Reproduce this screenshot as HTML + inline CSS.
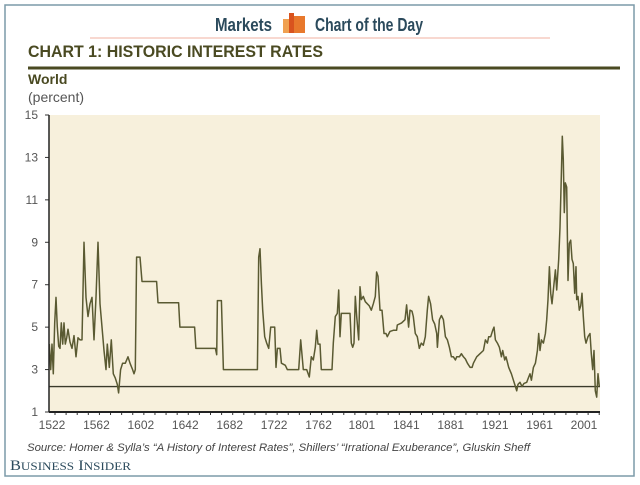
<!DOCTYPE html>
<html><head><meta charset="utf-8"><style>
body{margin:0;width:640px;height:480px;background:#fff;overflow:hidden;font-family:"Liberation Sans",sans-serif}
</style></head><body>
<svg width="640" height="480" viewBox="0 0 640 480">
<rect x="5" y="5" width="629" height="471" fill="#fff" stroke="#7c9aa8" stroke-width="1.5"/>
<text x="215" y="31" font-size="18" font-weight="bold" fill="#2b4a5c" textLength="57" lengthAdjust="spacingAndGlyphs">Markets</text>
<g><rect x="283" y="19" width="6" height="14" fill="#f0a050"/><rect x="289" y="13" width="5" height="20" fill="#d9531e"/><rect x="294" y="16" width="11" height="17" fill="#e8782c"/></g>
<text x="315" y="31" font-size="18" font-weight="bold" fill="#2b4a5c" textLength="108" lengthAdjust="spacingAndGlyphs">Chart of the Day</text>
<line x1="90" y1="38" x2="550" y2="38" stroke="#f0b0a0" stroke-width="1"/>
<text x="28" y="57" font-size="17" font-weight="bold" fill="#4a4a22" textLength="295" lengthAdjust="spacingAndGlyphs">CHART 1: HISTORIC INTEREST RATES</text>
<line x1="28" y1="68" x2="620" y2="68" stroke="#4a4a22" stroke-width="3"/>
<text x="28" y="84" font-size="14" font-weight="bold" fill="#4a4a22">World</text>
<text x="28" y="102" font-size="14" fill="#555">(percent)</text>
<rect x="49" y="115" width="551" height="297" fill="#f7f0dc"/>
<g id="plot"></g>
<text x="27" y="451" font-size="11" font-style="italic" fill="#444" textLength="503" lengthAdjust="spacingAndGlyphs">Source: Homer &amp; Sylla’s “A History of Interest Rates”, Shillers’ “Irrational Exuberance”, Gluskin Sheff</text>
<text x="10" y="470" font-size="15" fill="#2b4a5c" font-family="Liberation Serif, serif" textLength="121" lengthAdjust="spacingAndGlyphs">B<tspan font-size="12">USINESS</tspan> I<tspan font-size="12">NSIDER</tspan></text>
</svg>
<script>
const years=[1516.9,1518.1,1519.3,1520.5,1521.7,1522.9,1524.1,1525.3,1526.5,1527.7,1528.9,1530.1,1531.3,1532.5,1533.7,1535.5,1537.3,1539.1,1540.9,1542.7,1544.5,1546.3,1548.1,1549.9,1551.7,1553.5,1555.3,1557.1,1558.9,1560.7,1562.5,1564.3,1566.1,1567.9,1569.1,1570.9,1572.7,1574.5,1576.3,1578.1,1579.3,1581.1,1582.9,1585.3,1587.7,1589.5,1591.9,1593.1,1594.3,1595.5,1598.5,1600.3,1613.5,1614.7,1633.3,1634.5,1647.7,1648.9,1666.4,1667.6,1668.2,1671.8,1673.6,1704.2,1705.4,1706.6,1707.8,1709.0,1710.8,1712.6,1714.4,1716.2,1719.8,1721.0,1722.2,1724.6,1725.8,1729.4,1731.2,1741.4,1743.2,1745.6,1748.6,1751.0,1752.8,1754.6,1756.4,1757.6,1758.8,1760.6,1761.8,1771.4,1772.6,1774.4,1776.2,1777.4,1778.6,1779.8,1787.6,1788.8,1790.0,1791.2,1792.4,1793.6,1795.4,1796.6,1797.8,1799.6,1801.4,1805.0,1806.8,1808.6,1810.4,1811.6,1812.8,1814.6,1816.4,1818.2,1820.0,1821.2,1823.6,1826.6,1829.6,1830.2,1834.1,1837.1,1838.6,1840.4,1841.6,1843.4,1844.6,1846.4,1848.2,1850.0,1851.8,1853.6,1855.4,1857.2,1858.4,1860.2,1862.0,1863.9,1865.7,1866.3,1868.1,1869.9,1871.7,1873.5,1875.3,1877.1,1878.9,1880.7,1882.5,1883.7,1886.1,1887.9,1889.7,1891.5,1893.3,1895.7,1897.5,1898.7,1901.7,1904.7,1907.7,1909.5,1911.3,1912.5,1914.3,1916.1,1917.3,1918.5,1920.3,1922.1,1923.9,1925.1,1926.9,1928.1,1930.5,1932.9,1934.7,1936.5,1937.7,1938.9,1940.7,1942.5,1944.3,1946.7,1948.5,1949.7,1950.9,1952.7,1954.5,1956.3,1957.5,1958.7,1959.9,1961.7,1963.5,1964.7,1965.9,1967.1,1968.3,1969.5,1971.3,1972.5,1973.7,1975.5,1976.7,1977.9,1978.8,1979.7,1980.6,1981.5,1982.7,1983.9,1985.1,1986.3,1987.5,1988.7,1989.9,1991.1,1991.7,1992.9,1994.1,1995.3,1996.5,1997.7,1998.9,2000.1,2001.9,2003.7,2004.9,2006.1,2007.3,2008.5,2009.7,2010.9,2012.1];
const rates=[4.2,3.0,4.2,2.8,5.2,6.4,5.0,4.1,4.0,5.2,4.2,5.2,4.2,4.5,4.9,4.3,4.0,4.6,3.6,4.5,4.4,4.4,9.0,6.4,5.5,6.1,6.4,4.4,6.4,9.0,6.1,5.0,3.9,3.0,4.2,3.1,4.4,2.8,2.6,2.3,1.9,3.0,3.3,3.3,3.6,3.3,3.0,2.8,3.0,8.3,8.3,7.15,7.15,6.15,6.15,5.0,5.0,4.0,4.0,3.7,6.25,6.25,3.0,3.0,8.3,8.7,7.05,5.8,4.55,4.25,4.0,5.0,5.0,3.1,4.0,4.0,3.3,3.2,3.0,3.0,4.4,3.0,3.0,2.65,3.6,3.45,4.05,4.85,4.2,4.2,3.0,3.0,4.25,5.5,5.65,6.75,4.55,5.65,5.65,4.25,4.05,4.25,6.45,5.5,4.4,6.9,6.3,6.45,6.2,6.0,5.8,6.1,6.45,7.6,7.4,5.8,5.8,4.7,4.7,4.55,4.8,4.85,4.85,5.1,5.2,5.35,6.05,5.0,5.8,5.75,5.5,4.7,4.55,4.0,4.25,4.15,4.55,5.8,6.45,6.1,5.35,5.15,4.7,4.05,5.35,5.55,5.35,4.55,4.4,4.05,3.6,3.6,3.45,3.6,3.6,3.75,3.6,3.5,3.3,3.1,3.1,3.3,3.6,3.75,3.9,4.4,4.25,4.55,4.55,4.85,5.0,4.4,4.25,4.05,3.6,3.9,3.45,3.6,3.1,2.8,2.5,2.2,2.0,2.3,2.4,2.2,2.35,2.4,2.65,2.8,2.5,3.1,3.3,3.9,4.7,3.9,4.4,4.25,4.7,5.35,6.3,7.85,6.6,6.1,7.05,7.7,6.75,8.2,9.7,12.1,14.0,12.9,10.4,11.8,11.6,7.2,8.95,9.1,8.2,8.0,6.6,7.85,6.3,6.45,5.8,6.0,6.6,5.5,4.55,4.25,4.55,4.7,3.75,3.0,3.9,2.0,1.7,2.8,2.2];
const yTicks=[1,3,5,7,9,11,13,15];
const xTickYears=[1522,1562,1602,1642,1682,1722,1762,1801,1841,1881,1921,1961,2001];
const baseline=2.2;
const X0=49,X1=600,Y0=412,Y1=115,YR0=1516.6,YR1=2012.7;
function xs(y){return X0+(y-YR0)/(YR1-YR0)*(X1-X0);}
function ys(v){return Y0-(v-1)/14*(Y0-Y1);}
const NS="http://www.w3.org/2000/svg",g=document.getElementById('plot');
function mk(t,a){const e=document.createElementNS(NS,t);for(const k in a)e.setAttribute(k,a[k]);g.appendChild(e);return e;}
yTicks.forEach(v=>{
 const t=mk('text',{x:38,y:ys(v)+4,'font-size':12,fill:'#555','text-anchor':'end'});t.textContent=v;
 
 
 const l=mk('line',{x1:45,x2:49,y1:ys(v),y2:ys(v),stroke:'#333'});
 
 
});
xTickYears.forEach(yr=>{
 const t=mk('text',{x:xs(yr)-3,y:429,'font-size':12,fill:'#555','text-anchor':'middle'});t.textContent=yr;
 
 
});
for(let yr=1522;yr<=2012;yr+=10){
 const l=mk('line',{x1:xs(yr),x2:xs(yr),y1:412,y2:415,stroke:'#333'});
 
 
}
const bl=mk('line',{x1:X0,x2:X1,y1:ys(baseline),y2:ys(baseline),stroke:'#3a3a2a','stroke-width':1.3});


const p=mk('path',{d:years.map((y,i)=>(i?'L':'M')+xs(y).toFixed(1)+','+ys(rates[i]).toFixed(1)).join(''),fill:'none',stroke:'#5a5a32','stroke-width':1.5,'stroke-linejoin':'round'});


const ya=mk('line',{x1:49,x2:49,y1:115,y2:412,stroke:'#222','stroke-width':1.5});


const xa=mk('line',{x1:49,x2:600,y1:412,y2:412,stroke:'#222','stroke-width':2});


</script>
</body></html>
